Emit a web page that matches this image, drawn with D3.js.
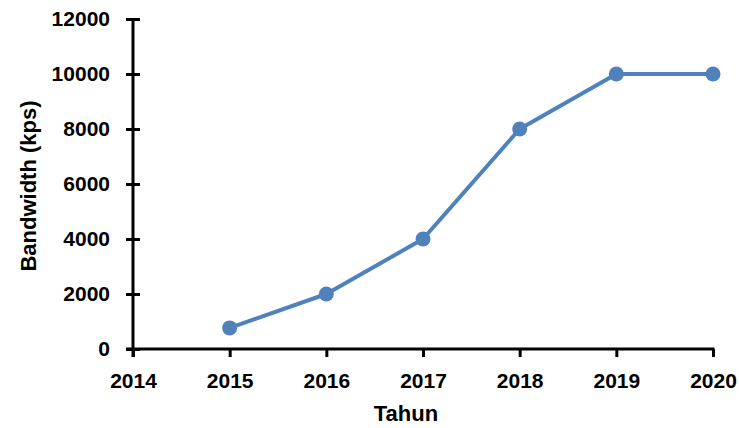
<!DOCTYPE html>
<html>
<head>
<meta charset="utf-8">
<script src="https://cdn.jsdelivr.net/npm/d3@7"></script>
<style>
  html, body { margin: 0; padding: 0; background: #fff; }
  svg { display: block; font-family: "Liberation Sans", Arial, sans-serif; font-weight: bold; }
</style>
</head>
<body>
<svg id="chart" width="739" height="428"></svg>
<script>
// Bandwidth per year
const years = [2015, 2016, 2017, 2018, 2019, 2020];
const bandwidth = [768, 2000, 4000, 8000, 10000, 10000];
const xTicks = [2014, 2015, 2016, 2017, 2018, 2019, 2020];
const yTicks = [0, 2000, 4000, 6000, 8000, 10000, 12000];

const svg = d3.select("#chart");
const plotLeft = 133, plotRight = 713, plotTop = 19, plotBottom = 349;

const x = d3.scaleLinear().domain([2014, 2020]).range([plotLeft, plotRight]);
const y = d3.scaleLinear().domain([0, 12000]).range([plotBottom, plotTop]);

const color = "#4f81bd";

// Y axis: ticks cross the axis line
const yAxis = svg.append("g").attr("transform", `translate(${plotLeft},0)`)
  .call(d3.axisLeft(y).tickValues(yTicks).tickSizeInner(7).tickSizeOuter(0).tickPadding(16).tickFormat(d3.format("d")));
yAxis.select(".domain").remove();
yAxis.selectAll(".tick line").attr("x2", 7).attr("x1", -7).attr("stroke", "#000").attr("stroke-width", 3);
yAxis.selectAll(".tick text").attr("font-size", 21).attr("fill", "#000").attr("font-family", "Liberation Sans, Arial, sans-serif");

// X axis: ticks point downward
const xAxis = svg.append("g").attr("transform", `translate(0,${plotBottom})`)
  .call(d3.axisBottom(x).tickValues(xTicks).tickSizeInner(8).tickSizeOuter(0).tickPadding(16).tickFormat(d3.format("d")));
xAxis.select(".domain").remove();
xAxis.selectAll(".tick line").attr("stroke", "#000").attr("stroke-width", 3);
xAxis.selectAll(".tick text").attr("font-size", 21).attr("fill", "#000").attr("font-family", "Liberation Sans, Arial, sans-serif");

// axis lines
svg.append("line").attr("x1", plotLeft).attr("x2", plotLeft).attr("y1", y(12000)).attr("y2", plotBottom + 8)
  .attr("stroke", "#000").attr("stroke-width", 3);
svg.append("line").attr("x1", plotLeft - 7).attr("x2", plotRight + 1.5).attr("y1", plotBottom).attr("y2", plotBottom)
  .attr("stroke", "#000").attr("stroke-width", 3);

// series line and markers
const data = years.map((yr, i) => ({ yr, v: bandwidth[i] }));
svg.append("path").datum(data)
  .attr("fill", "none").attr("stroke", color).attr("stroke-width", 4).attr("stroke-linejoin", "round")
  .attr("d", d3.line().x(d => x(d.yr)).y(d => y(d.v)));
svg.append("g").selectAll("circle").data(data).join("circle")
  .attr("cx", d => x(d.yr)).attr("cy", d => y(d.v)).attr("r", 7.5).attr("fill", color);

// axis titles
svg.append("text").attr("x", 406).attr("y", 421).attr("text-anchor", "middle")
  .attr("font-size", 22).attr("fill", "#000").text("Tahun");
svg.append("text").attr("transform", "translate(36,186) rotate(-90)").attr("text-anchor", "middle")
  .attr("font-size", 22).attr("fill", "#000").text("Bandwidth (kps)");
</script>
</body>
</html>
